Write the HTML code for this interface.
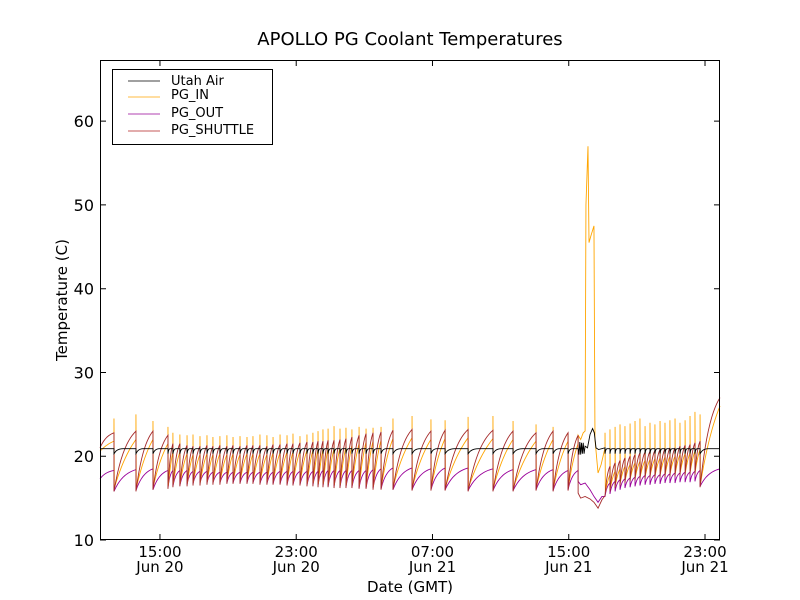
<!DOCTYPE html>
<html><head><meta charset="utf-8">
<style>
body{margin:0;background:#fff;}
svg{display:block;font-family:"DejaVu Sans","Liberation Sans",sans-serif;}
</style></head>
<body>
<svg id="chart" width="800" height="600" viewBox="0 0 800 600">
<rect width="800" height="600" fill="#fff"/>
<text x="410" y="45" font-size="18" text-anchor="middle">APOLLO PG Coolant Temperatures</text>
<g id="plot"></g>
<g id="axes"></g>
<text x="410" y="592" font-size="15" text-anchor="middle">Date (GMT)</text>
<text transform="translate(67,300) rotate(-90)" font-size="15" text-anchor="middle">Temperature (C)</text>
<g>
<rect x="112.5" y="69.5" width="160" height="75" fill="#fff" stroke="#000"/>
<g><line x1="128" y1="81" x2="160" y2="81" stroke="#000" stroke-width="0.8"/><text x="171" y="85" font-size="13">Utah Air</text></g>
<g><line x1="128" y1="97" x2="160" y2="97" stroke="#FFA500" stroke-width="0.8"/><text x="171" y="99" font-size="13">PG_IN</text></g>
<g><line x1="128" y1="114" x2="160" y2="114" stroke="#990099" stroke-width="0.8"/><text x="171" y="117" font-size="13">PG_OUT</text></g>
<g><line x1="128" y1="131" x2="160" y2="131" stroke="#B22222" stroke-width="0.8"/><text x="171" y="134" font-size="13">PG_SHUTTLE</text></g>
</g>
</svg>
<script>
// ---- data (hours since Jun 20 00:00 GMT, temperatures in C) ----
const yTicks=[10,20,30,40,50,60];
const xTickHours=[15,23,31,39,47];
const xTickTimes=["15:00","23:00","07:00","15:00","23:00"];
const xTickDates=["Jun 20","Jun 20","Jun 21","Jun 21","Jun 21"];
// segment A resets
const resetsA=[12.30,13.59,14.59,15.47,15.76,16.17,16.59,16.94,17.35,17.76,18.11,18.52,18.93,19.29,19.70,20.11,20.46,20.87,21.28,21.64,22.05,22.46,22.81,23.22,23.63,23.98,24.28,24.57,24.87,25.22,25.57,25.92,26.27,26.69,27.10,27.51,27.98,28.68,29.80,30.91,31.74,33.09,34.55,35.73,37.08,38.08,38.96];
const inSpikeA=[24.5,25,24.2,23.5,22.8,22.6,22.5,22.6,22.4,22.5,22.3,22.4,22.5,22.3,22.4,22.3,22.4,22.6,22.5,22.3,22.6,22.5,22.7,22.4,22.6,22.8,23.0,23.2,23.3,23.6,23.3,23.4,23.2,23.5,23.3,23.4,23.5,24.5,24.8,24.4,24.3,24.7,24.8,24.2,23.8,23.5,22.8];
const shMaxA=[22.8,23,23,22.5,21.5,21.5,21.3,21.2,21.2,21.3,21.2,21.3,21.2,21.3,21.2,21.3,21.3,21.3,21.2,21.4,21.4,21.5,21.5,21.6,21.7,21.7,21.8,21.8,21.9,21.9,22.0,22.1,22.3,22.5,22.7,22.8,22.9,23.1,23.2,23.0,23.1,23.2,23.1,23.0,22.8,23.0,22.8];
const shMinA=[15.8,15.8,16.0,16.1,16.3,16.4,16.4,16.5,16.5,16.6,16.6,16.6,16.7,16.7,16.7,16.7,16.7,16.6,16.6,16.6,16.6,16.5,16.5,16.5,16.4,16.4,16.3,16.3,16.3,16.2,16.2,16.2,16.2,16.1,16.1,16.0,16.0,16.0,15.9,15.9,15.9,15.8,15.8,15.8,15.9,15.8,15.9];
const outMaxA=[18.3,18.4,18.5,18.3,18.3,18.3,18.3,18.2,18.2,18.2,18.1,18.1,18.1,18.1,18.1,18.1,18.1,18.1,18.1,18.1,18.2,18.2,18.2,18.2,18.2,18.2,18.2,18.3,18.3,18.3,18.3,18.3,18.3,18.3,18.3,18.4,18.5,18.6,18.6,18.5,18.6,18.6,18.5,18.4,18.4,18.4,18.3];
const outMinA=[15.8,15.9,16.0,16.2,16.4,16.5,16.6,16.7,16.8,16.8,16.8,16.8,16.8,16.8,16.8,16.8,16.8,16.7,16.7,16.7,16.7,16.6,16.6,16.6,16.5,16.5,16.5,16.4,16.4,16.4,16.3,16.3,16.3,16.2,16.2,16.2,16.1,16.0,16.0,16.0,16.0,15.9,15.9,15.9,16.0,15.9,16.0];
const endA=39.55;
// segment B resets
const resetsB=[41.13,41.42,41.72,42.01,42.30,42.60,42.89,43.18,43.48,43.77,44.06,44.36,44.65,44.94,45.24,45.53,45.83,46.12,46.41,46.71];
const inSpikeB=[22.8,23.2,23.5,23.8,23.6,23.9,24.2,24.5,23.6,24.0,23.8,24.2,24.0,24.3,24.5,24.0,24.3,24.8,25.3,25.0];
const shMaxB=[18.8,19.2,19.5,19.8,20.0,20.2,20.4,20.5,20.6,20.7,20.8,20.9,21.0,21.0,21.2,21.3,21.4,21.6,21.8,27.0];
const shMinB=[15.3,15.8,16.2,16.5,16.8,17.0,17.1,17.2,17.3,17.4,17.4,17.5,17.5,17.6,17.6,17.7,17.7,17.8,17.8,16.3];
const outMaxB=[16.8,17.0,17.2,17.3,17.4,17.5,17.6,17.7,17.7,17.8,17.8,17.9,17.9,18.0,18.0,18.1,18.1,18.2,18.3,18.5];
const outMinB=[15.2,15.5,15.8,16.0,16.2,16.3,16.4,16.5,16.6,16.6,16.7,16.7,16.8,16.8,16.8,16.9,16.9,16.9,17.0,16.4];
const endB=47.88;
// disturbance (Jun 21 ~15:30-17:00)
const distInT=[39.55,39.70,39.85,39.96,40.01,40.13,40.19,40.30,40.48,40.54,40.72,40.90,41.13];
const distInV=[22.5,22.0,22.8,23.0,50.0,57.0,45.5,46.3,47.5,22.0,18.0,19.0,21.0];
const distShT=[39.55,39.70,39.96,40.25,40.48,40.72,40.95,41.13];
const distShV=[15.6,15.0,15.2,14.9,14.5,13.8,14.8,15.3];
const distOutT=[39.55,39.70,39.96,40.25,40.48,40.72,40.95,41.13];
const distOutV=[17.0,16.6,16.8,16.0,15.2,14.5,15.2,15.2];
const distAirT=[39.55,39.60,39.65,39.70,39.75,39.80,39.85,39.90,39.96,40.10,40.25,40.40,40.50,40.60,40.75,41.13];
const distAirV=[21.0,20.2,21.7,20.2,21.6,20.3,21.6,20.3,21.2,21.0,22.6,23.3,22.8,21.0,20.8,21.0];
const startVals={sh:21.0,inn:20.6,out:17.3,t:11.48};
const airBase=20.9, airDip=20.3;

// ---- scales ----
const X0=100,X1=720,Y0=60,Y1=540;
const tMin=11.48,tMax=47.88,vMin=10,vMax=67.3;
const xs=t=>X0+(t-tMin)/(tMax-tMin)*(X1-X0);
const ys=v=>Y1-(v-vMin)/(vMax-vMin)*(Y1-Y0);
const NS="http://www.w3.org/2000/svg";
const plot=document.getElementById('plot');
const axes=document.getElementById('axes');
function rise(a,b,f,k){return a+(b-a)*(1-Math.exp(-k*f))/(1-Math.exp(-k));}

function buildSeg(resets,end,shMin,shMax,outMin,outMax,inSpike,P){
  for(let i=0;i<resets.length;i++){
    const r=resets[i], e=(i+1<resets.length)?resets[i+1]:end;
    const inLow=shMin[i]+0.4, inHigh=shMax[i]-1.0;
    P.in.push([r,inSpike[i]]);
    P.in.push([r+0.02,inLow]);
    P.air.push([r,airDip]);
    for(let k=0;k<=12;k++){
      const f=k/12, t=r+(e-r)*f;
      P.sh.push([t,rise(shMin[i],shMax[i],f,1.8)]);
      P.out.push([t,rise(outMin[i],outMax[i],f,2.0)]);
      if(k>0)P.in.push([r+0.02+(e-r-0.02)*f,rise(inLow,inHigh,f,0.9)]);
      if(k>0)P.air.push([t,rise(airDip,airBase,Math.min(1,f*2.5),3)]);
    }
  }
}
const P={sh:[],in:[],out:[],air:[]};
for(let k=0;k<=8;k++){const f=k/8,t=startVals.t+(resetsA[0]-startVals.t)*f;
  P.sh.push([t,rise(startVals.sh,shMaxA[0],f,1.8)]);P.out.push([t,rise(startVals.out,outMaxA[0],f,2)]);P.in.push([t,rise(startVals.inn,shMaxA[0]-1.0,f,0.9)]);}
P.air.push([startVals.t,airBase]);P.air.push([resetsA[0],airBase]);
buildSeg(resetsA,endA,shMinA,shMaxA.slice(1).concat([22.5]),outMinA,outMaxA.slice(1).concat([18.3]),inSpikeA,P);
distShT.forEach((t,i)=>P.sh.push([t,distShV[i]]));
distOutT.forEach((t,i)=>P.out.push([t,distOutV[i]]));
distInT.forEach((t,i)=>P.in.push([t,distInV[i]]));
distAirT.forEach((t,i)=>P.air.push([t,distAirV[i]]));
buildSeg(resetsB,endB,shMinB,shMaxB,outMinB,outMaxB,inSpikeB,P);

function drawLine(pts,color,name){
  const p=document.createElementNS(NS,'path');
  p.setAttribute('d','M'+pts.map(q=>xs(q[0]).toFixed(2)+','+ys(q[1]).toFixed(2)).join('L'));
  p.setAttribute('fill','none');p.setAttribute('stroke',color);p.setAttribute('stroke-width','0.9');
  
  
  plot.appendChild(p);
}
drawLine(P.out,'#990099','series-pg-out');
drawLine(P.in,'#FFA500','series-pg-in');
drawLine(P.sh,'#A52A2A','series-pg-shuttle');
drawLine(P.air,'#000','series-utah-air');

const fr=document.createElementNS(NS,'rect');
fr.setAttribute('x',X0+0.5);fr.setAttribute('y',Y0+0.5);fr.setAttribute('width',X1-X0-1);fr.setAttribute('height',Y1-Y0-1);
fr.setAttribute('fill','none');fr.setAttribute('stroke','#000');


axes.appendChild(fr);
yTicks.forEach(v=>{
  const y=ys(v);
  const l=document.createElementNS(NS,'path');
  l.setAttribute('d',`M${X0},${y}h6M${X1},${y}h-6`);l.setAttribute('stroke','#000');
  
  
  axes.appendChild(l);
  const t=document.createElementNS(NS,'text');
  t.setAttribute('x',X0-6);t.setAttribute('y',y+6);t.setAttribute('font-size','16');t.setAttribute('text-anchor','end');
  t.textContent=v;
  
  
  axes.appendChild(t);
});
xTickHours.forEach((h,i)=>{
  const x=xs(h);
  const l=document.createElementNS(NS,'path');
  l.setAttribute('d',`M${x},${Y1}v-6M${x},${Y0}v6`);l.setAttribute('stroke','#000');
  
  
  axes.appendChild(l);
  [[xTickTimes[i],557],[xTickDates[i],572]].forEach(([s,y])=>{
    const t=document.createElementNS(NS,'text');
    t.setAttribute('x',x);t.setAttribute('y',y);t.setAttribute('font-size','15');t.setAttribute('text-anchor','middle');
    t.textContent=s;
    
    
    axes.appendChild(t);
  });
});
</script>
</body></html>
